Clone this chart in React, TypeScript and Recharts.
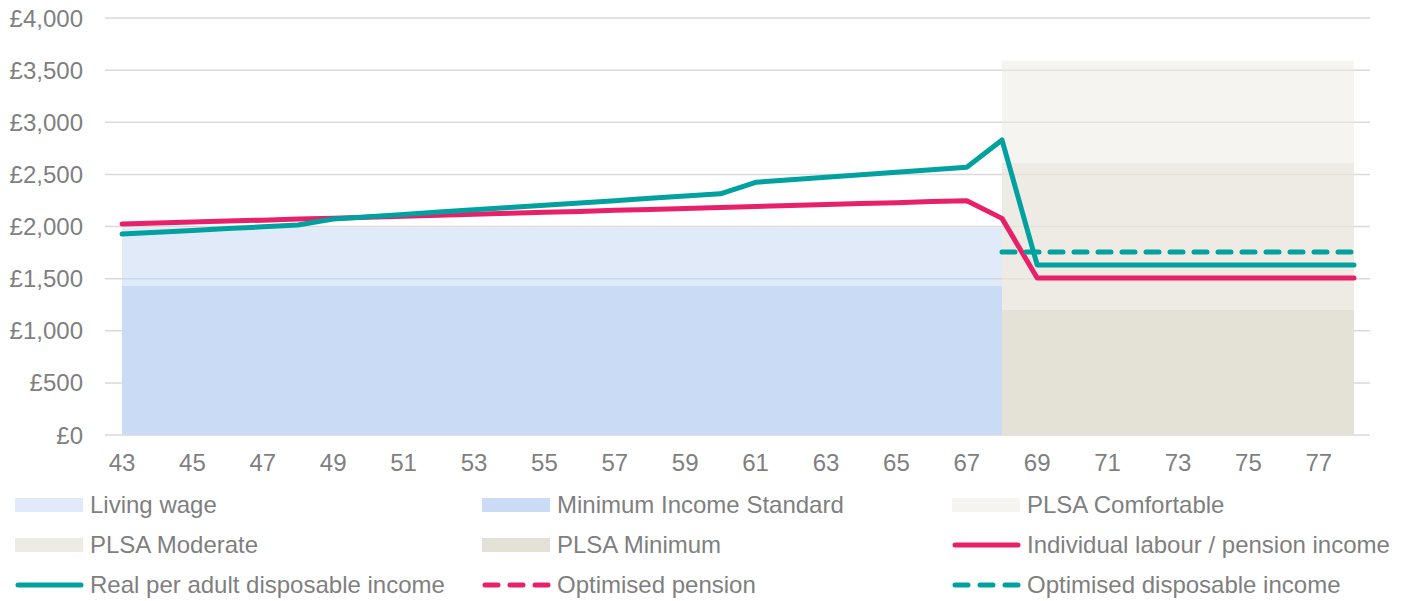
import {
  ComposedChart,
  Area,
  Line,
  XAxis,
  YAxis,
  CartesianGrid,
} from "recharts";

const ages = [
  43, 44, 45, 46, 47, 48, 49, 50, 51, 52, 53, 54, 55, 56, 57, 58, 59, 60,
  61, 62, 63, 64, 65, 66, 67, 68, 69, 70, 71, 72, 73, 74, 75, 76, 77, 78,
];

// monthly amounts, £
const labourPension = [
  2024, 2033, 2043, 2052, 2061, 2071, 2080, 2089, 2099, 2108, 2117, 2127,
  2136, 2145, 2155, 2164, 2173, 2183, 2192, 2201, 2211, 2220, 2229, 2239,
  2248, 2078, 1505, 1505, 1505, 1505, 1505, 1505, 1505, 1505, 1505, 1505,
];
const disposable = [
  1928, 1945, 1962, 1980, 1997, 2014, 2072, 2094, 2116, 2138, 2160, 2182,
  2204, 2226, 2248, 2270, 2292, 2314, 2424, 2448, 2472, 2496, 2520, 2544,
  2568, 2830, 1631, 1631, 1631, 1631, 1631, 1631, 1631, 1631, 1631, 1631,
];
const optimisedPension: (number | null)[] = ages.map(() => null);
const optimisedDisposable = [
  null, null, null, null, null, null, null, null, null, null, null, null,
  null, null, null, null, null, null, null, null, null, null, null, null,
  null, 1755, 1755, 1755, 1755, 1755, 1755, 1755, 1755, 1755, 1755, 1755,
];

// benchmark bands
const RETIRE_AGE = 68;
const LIVING_WAGE = 1990;
const MIS = 1430;
const PLSA_COMFORTABLE = 3590;
const PLSA_MODERATE = 2610;
const PLSA_MINIMUM = 1200;

const yTicks = [0, 500, 1000, 1500, 2000, 2500, 3000, 3500, 4000];
const xTicks = [43, 45, 47, 49, 51, 53, 55, 57, 59, 61, 63, 65, 67, 69, 71, 73, 75, 77];

const data = ages.map((age, i) => ({
  age,
  livingWage: age <= RETIRE_AGE ? LIVING_WAGE : null,
  mis: age <= RETIRE_AGE ? MIS : null,
  comfortable: age >= RETIRE_AGE ? PLSA_COMFORTABLE : null,
  moderate: age >= RETIRE_AGE ? PLSA_MODERATE : null,
  minimum: age >= RETIRE_AGE ? PLSA_MINIMUM : null,
  labour: labourPension[i],
  disposable: disposable[i],
  optPension: optimisedPension[i],
  optDisposable: optimisedDisposable[i],
}));

const PINK = "#e8206a";
const TEAL = "#00a19f";
const GREY = "#7f7f7f";
const FONT = "'Liberation Sans', Arial, sans-serif";

type LegendItem = { label: string; kind: "box" | "line" | "dash"; color: string };

const legendItems: LegendItem[] = [
  { label: "Living wage", kind: "box", color: "#e1eaf9" },
  { label: "Minimum Income Standard", kind: "box", color: "#c9dbf5" },
  { label: "PLSA Comfortable", kind: "box", color: "#f5f4f0" },
  { label: "PLSA Moderate", kind: "box", color: "#eeebe4" },
  { label: "PLSA Minimum", kind: "box", color: "#e4e1d7" },
  { label: "Individual labour / pension income", kind: "line", color: PINK },
  { label: "Real per adult disposable income", kind: "line", color: TEAL },
  { label: "Optimised pension", kind: "dash", color: PINK },
  { label: "Optimised disposable income", kind: "dash", color: TEAL },
];

function Swatch({ kind, color }: { kind: LegendItem["kind"]; color: string }) {
  return (
    <svg width={70} height={20} style={{ display: "block" }}>
      {kind === "box" && <rect x={0} y={3} width={68} height={14} fill={color} />}
      {kind === "line" && (
        <line x1={3} y1={10} x2={66} y2={10} stroke={color} strokeWidth={5} strokeLinecap="round" />
      )}
      {kind === "dash" && (
        <line
          x1={3}
          y1={10}
          x2={66}
          y2={10}
          stroke={color}
          strokeWidth={5}
          strokeLinecap="round"
          strokeDasharray="13 12"
        />
      )}
    </svg>
  );
}

const fmtPound = (v: number) => `£${v.toLocaleString("en-GB")}`;

export default function App() {
  const tick = { fontSize: 24, fill: GREY, fontFamily: FONT };
  return (
    <div
      style={{
        position: "absolute",
        left: 0,
        top: 0,
        width: 1407,
        height: 601,
        background: "#fff",
        fontFamily: FONT,
      }}
    >
      <style>{`body{margin:0}`}</style>
      <ComposedChart
        width={1407}
        height={480}
        data={data}
        margin={{ top: 18, right: 37, bottom: 0, left: 0 }}
      >
        <CartesianGrid vertical={false} stroke="#d9d9d9" strokeWidth={1.5} />
        <XAxis
          dataKey="age"
          type="number"
          domain={[43, 78]}
          ticks={xTicks}
          padding={{ left: 17, right: 16 }}
          tick={tick}
          tickLine={false}
          axisLine={false}
          tickSize={0}
          tickMargin={19}
          height={45}
          interval={0}
        />
        <YAxis
          domain={[0, 4000]}
          ticks={yTicks}
          tickFormatter={fmtPound}
          tick={tick}
          tickLine={false}
          axisLine={false}
          tickSize={0}
          tickMargin={22}
          width={105}
          interval={0}
        />
        <Area
          dataKey="comfortable"
          stroke="none"
          fill="#ebe9e1"
          fillOpacity={0.5}
          isAnimationActive={false}
          dot={false}
          activeDot={false}
        />
        <Area
          dataKey="moderate"
          stroke="none"
          fill="#e7e2d8"
          fillOpacity={0.5}
          isAnimationActive={false}
          dot={false}
          activeDot={false}
        />
        <Area
          dataKey="minimum"
          stroke="none"
          fill="#e4e1d7"
          fillOpacity={1}
          isAnimationActive={false}
          dot={false}
          activeDot={false}
        />
        <Area
          dataKey="livingWage"
          stroke="none"
          fill="#c3d5f3"
          fillOpacity={0.5}
          isAnimationActive={false}
          dot={false}
          activeDot={false}
        />
        <Area
          dataKey="mis"
          stroke="none"
          fill="#c9dbf5"
          fillOpacity={1}
          isAnimationActive={false}
          dot={false}
          activeDot={false}
        />
        <Line
          dataKey="labour"
          stroke={PINK}
          strokeWidth={5}
          strokeLinecap="round"
          strokeLinejoin="round"
          dot={false}
          activeDot={false}
          isAnimationActive={false}
        />
        <Line
          dataKey="disposable"
          stroke={TEAL}
          strokeWidth={5}
          strokeLinecap="round"
          strokeLinejoin="round"
          dot={false}
          activeDot={false}
          isAnimationActive={false}
        />
        <Line
          dataKey="optPension"
          stroke={PINK}
          strokeWidth={5}
          strokeLinecap="round"
          strokeDasharray="13 11"
          dot={false}
          activeDot={false}
          isAnimationActive={false}
        />
        <Line
          dataKey="optDisposable"
          stroke={TEAL}
          strokeWidth={5}
          strokeLinecap="round"
          strokeDasharray="13 11"
          dot={false}
          activeDot={false}
          isAnimationActive={false}
        />
      </ComposedChart>
      <div
        style={{
          position: "absolute",
          left: 15,
          top: 485,
          display: "grid",
          gridTemplateColumns: "467px 470px 440px",
          gridAutoRows: "40px",
          fontSize: 24,
          color: GREY,
        }}
      >
        {legendItems.map((it) => (
          <div key={it.label} style={{ display: "flex", alignItems: "center", gap: 5, whiteSpace: "nowrap" }}>
            <Swatch kind={it.kind} color={it.color} />
            <span>{it.label}</span>
          </div>
        ))}
      </div>
    </div>
  );
}
